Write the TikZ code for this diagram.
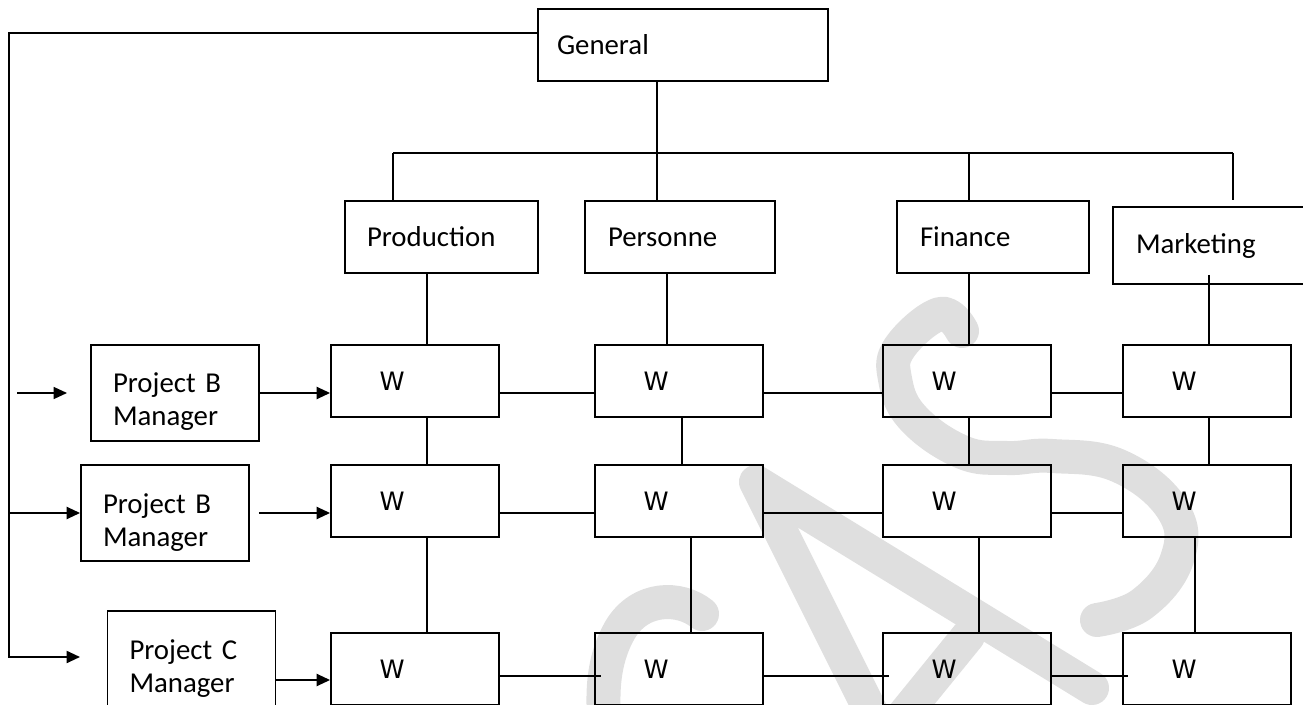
\documentclass[tikz,border=0pt]{standalone}
\usepackage{fontspec}
\setmainfont{Carlito}
\newfontfamily\wfont{DejaVu Sans}
\usetikzlibrary{arrows.meta,calc}
\begin{document}
\begin{tikzpicture}[x=0.75pt,y=-0.75pt,
  every node/.style={font=\fontsize{21.6pt}{24.75pt}\selectfont},
  lbox/.style n args={4}{draw, line width=1.4pt, rectangle, inner ysep=0pt,
    minimum width=#1, minimum height=#2, inner xsep=#3, text width=#4, align=left},
  wbox/.style={lbox={126pt}{54pt}{36.5pt}{53pt}, font=\wfont\fontsize{19pt}{22pt}\selectfont},
  pmbox/.style={lbox={126pt}{72pt}{16.5pt}{93pt}, text height=20pt, text depth=20pt},
  conn/.style={line width=1.4pt},
  arr/.style={conn, -{Triangle[length=10pt,width=9pt]}},
  wm/.style={draw=gray!25, line width=25.5pt, line cap=round, line join=round}]

\useasboundingbox (0,0) rectangle (1303,705);
\clip (0,0) rectangle (1303,705);

% watermark letters, behind everything
\draw[wm] (702,614) .. controls (680,596) and (640,596) .. (620,630)
          .. controls (605,656) and (602,685) .. (604,716);
\draw[wm] (873,716) -- (756,482) -- (1092,688);
\draw[wm] (968,636) -- (903,716);
\draw[wm] plot[smooth, tension=0.7] coordinates {(962,331) (940,314) (900,347) (895,379)
  (913,418) (962,452) (1007,458) (1052,456) (1119,466) (1173,510) (1177,559) (1142,604) (1097,620)};

% management boxes
\node[lbox={217.5pt}{54pt}{14.25pt}{189pt}] (gen) at (683,45) {General};
\node[lbox={144.75pt}{54pt}{16.5pt}{111.75pt}] (prod) at (441.5,237) {Production};
\node[lbox={142.5pt}{54pt}{17.25pt}{108pt}] (prs) at (680,237) {Personne};
\node[lbox={144pt}{54pt}{17.25pt}{109.5pt}] (fin) at (993,237) {Finance};
\node[lbox={147.75pt}{57.75pt}{17.25pt}{113.25pt}] (mkt) at (1211.5,245.5) {Marketing};

% work cells
\foreach \c/\x in {1/415,2/679,3/967,4/1207}
  \foreach \r/\y in {1/381,2/501,3/669}
    \node[wbox] (w\r\c) at (\x,\y) {W};

% project managers
\node[pmbox] (pm1) at (175,393) {Project B\\Manager};
\node[pmbox] (pm2) at (165,513) {Project B\\Manager};
\node[pmbox] (pmc) at (191.5,659) {Project C\\Manager};

% helper coordinates
\coordinate (bus) at (0,153);
\foreach \v in {393,427,657,667,682,691,969,979,1195,1209,1233}
  \coordinate (x\v) at (\v,0);
\coordinate (ra) at (0,393);
\coordinate (rb) at (0,513);
\coordinate (rc) at (0,676);
\coordinate (lbot) at (9,657);
\coordinate (cend) at (80,657);
\coordinate (sa) at (17,393);
\coordinate (sb) at (67,393);
\coordinate (ma) at (153,33);
\coordinate (mb) at (177,33);

% general to departments
\draw[conn] (x657 |- gen.south) -- (x657 |- bus);
\draw[conn] (x393 |- bus) -- (x1233 |- bus);
\draw[conn] (x393 |- bus) -- (x393 |- prod.north);
\draw[conn] (x657 |- bus) -- (x657 |- prs.north);
\draw[conn] (x969 |- bus) -- (x969 |- fin.north);
\draw[conn] (x1233 |- bus) -- ($(x1233 |- mkt.north)+(0,-6)$);

% departments to first row of cells
\draw[conn] (x427 |- prod.south) -- (x427 |- w11.north);
\draw[conn] (x667 |- prs.south) -- (x667 |- w12.north);
\draw[conn] (x969 |- fin.south) -- (x969 |- w13.north);
\draw[conn] ($(x1209 |- mkt.south)+(0,-10)$) -- (x1209 |- w14.north);

% vertical links between cells
\draw[conn] (x427 |- w11.south) -- (x427 |- w21.north);
\draw[conn] (x427 |- w21.south) -- (x427 |- w31.north);
\draw[conn] (x682 |- w12.south) -- (x682 |- w22.north);
\draw[conn] (x691 |- w22.south) -- (x691 |- w32.north);
\draw[conn] (x969 |- w13.south) -- (x969 |- w23.north);
\draw[conn] (x979 |- w23.south) -- (x979 |- w33.north);
\draw[conn] (x1209 |- w14.south) -- (x1209 |- w24.north);
\draw[conn] (x1195 |- w24.south) -- (x1195 |- w34.north);

% horizontal links between cells
\draw[conn] (w11.east |- ra) -- (w12.west |- ra);
\draw[conn] (w12.east |- ra) -- (w13.west |- ra);
\draw[conn] (w13.east |- ra) -- (w14.west |- ra);
\draw[conn] (w21.east |- rb) -- (w22.west |- rb);
\draw[conn] (w22.east |- rb) -- (w23.west |- rb);
\draw[conn] (w23.east |- rb) -- (w24.west |- rb);
\draw[conn] (w31.east |- rc) -- ($(w32.west |- rc)+(7,0)$);
\draw[conn] (w32.east |- rc) -- ($(w33.west |- rc)+(7,0)$);
\draw[conn] (w33.east |- rc) -- ($(w34.west |- rc)+(6,0)$);

% general manager line to the project managers
\draw[arr] ([yshift=9pt]gen.west) -| (lbot) -- (cend);
\draw[line width=2pt] (ma) -- (mb);
\draw[arr] (lbot |- pm2.west) -- (pm2.west);
\draw[arr, line width=1pt] (sa) -- (sb);

% project managers to their cells
\draw[arr] (pm1.east) -- (pm1.east -| w11.west);
\draw[arr] ([xshift=6.75pt]pm2.east) -- (pm2.east -| w21.west);
\draw[arr] ([yshift=-15.75pt]pmc.east) -- ([yshift=-15.75pt]pmc.east -| w31.west);
\end{tikzpicture}
\end{document}
